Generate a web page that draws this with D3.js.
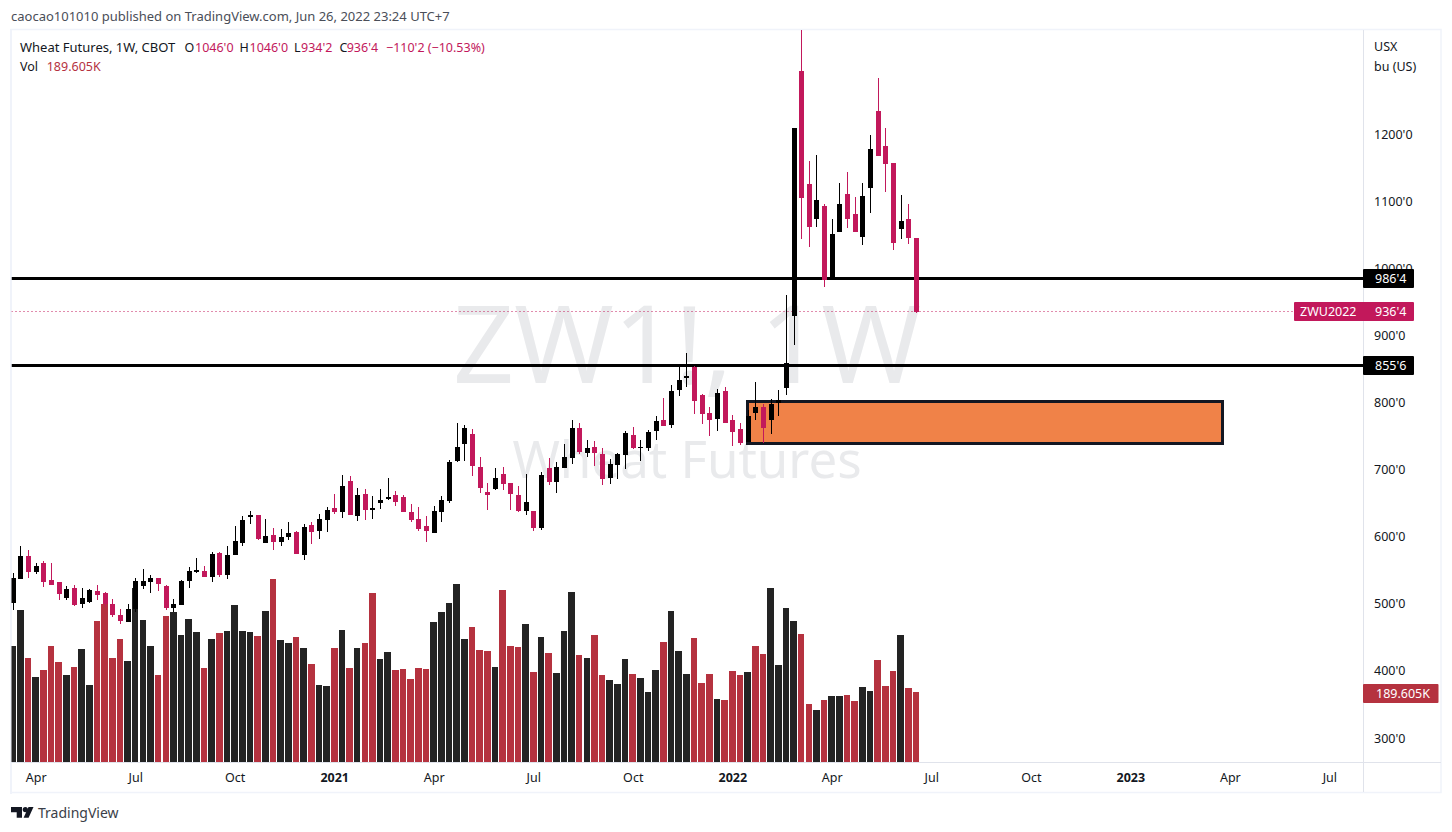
<!DOCTYPE html>
<html><head><meta charset="utf-8">
<script src="https://cdn.jsdelivr.net/npm/d3@7"></script>
<style>
html,body{margin:0;padding:0;background:#fff;overflow:hidden}
text{font-family:"Noto Sans","Open Sans",sans-serif;}
</style></head><body>
<svg id="c" width="1452" height="832"></svg>
<script>
const opens=[503,539,572.7,549.4,562.3,537,534,510.7,525,501.7,504.7,520.6,517.6,501.2,484.8,475,493.8,528,534,540,528,495.3,499.7,535.5,548.9,550.4,541.5,577.2,544.4,574.2,592.1,630.9,633.8,592.1,604,593.6,601.1,608.5,574.2,619,610,626.4,644.3,
638.2,684.4,632.2,665,641.2,651.6,657.6,663.5,660.6,638.2,627.8,617.3,606.9,638.2,654.6,714.2,739.5,754.4,705.3,668,672.5,694.8,681.4,663.5,639.7,639.7,614.4,703.8,682.9,703.8,718.7,763.4,726.1,735,724.6,688.9,708.2,723.1,753,733.6,733.6,758.9,775.3,
767.8,820,837.9,854.3,812.5,785.7,776.8,818.5,775.3,761.9,742.5,785.7,794.7,775.3,800.6,823,930.3,1295.4,1127,1074.8,1094.2,987.9,1055.4,1112.1,1082.3,1048,1121,1235.8,1183.6,1158.3,1059.9,1074.8,1046];
const highs=[547,587.6,581.7,562.3,565.3,562.3,534,528,529.5,525,523.6,529.5,519,508.7,493.8,501.2,540,553.4,544.4,540,529.5,508.7,537,556.4,569.8,557.8,578.7,578.7,587.6,617.4,632.3,639.8,633.8,627.9,614.5,613,623.4,610,620.4,623.4,635.3,645.8,665.1,
693.3,691.8,674,672.5,662,672.5,688.9,669.5,663.5,650.1,645.7,632.2,647.2,662,715.7,770.8,767.8,761.9,720.2,681.4,703.8,705.3,681.4,676.9,694.8,639.7,697.8,718.7,712.7,739.5,775.3,770.8,745.5,744,733.6,717.2,726.1,758.9,764.9,745.5,760.4,781.3,808.1,
827.4,854.3,875.1,855.8,814,794.7,821.5,824.5,782.7,770.8,790,831.9,799.1,806.6,820,961.5,1210.4,1363.5,1161.2,1170.2,1097.2,1074.8,1128.5,1144.9,1107.6,1128.5,1200,1284.9,1210.4,1158.3,1110.6,1097.2,1046];
const lows=[492.3,539,540,546.4,527,529.5,507.7,507.7,498.2,495.8,503.2,507.7,497.2,482.3,471.4,475,489.8,523.6,518.1,520.6,492.3,489.3,499.7,525,547.4,541.5,534,541.5,538.5,574.2,587.6,620.4,596.6,592.1,581.7,587.6,596.6,575.7,566.8,590.6,598.1,608.5,635.3,
629.3,633.7,624.8,626.3,627.8,642.7,656.1,647.2,638.2,623.3,609.9,593.5,606.9,623.3,651.6,712.7,714.2,691.8,666.5,641.2,671,671,641.2,638.2,633.7,609.9,611.4,678.4,666.5,703.8,709.7,724.6,720.2,706.8,678.4,679.9,687.4,702.3,732.1,714.2,729.1,745.5,766.4,
763.4,811,824.5,784.2,769.3,751.4,758.9,770.8,736.6,738,742.5,775.3,741,754.4,781.2,812.5,887,1045,1033.1,1062.9,973.5,987.9,1055.4,1061.4,1055.4,1036.1,1083.8,1168.7,1115.1,1028.6,1045,1037.6,934.25];
const closes=[539.5,572.7,549.4,557.8,534.5,529.5,516.6,523.6,499.7,510.2,522,514.6,501.2,485.3,476.4,493.8,535.5,535.5,540,531,495.3,501.2,535.5,550.4,551.9,541.5,575.7,544.4,574.2,595.1,626.4,633.8,598.1,602.5,593.6,601.1,607,575.7,616,608.5,627.9,641.3,638.3,
676.9,633.7,663.5,641.2,644.2,656.1,660.6,653.1,638.2,626.3,612.9,609.9,639.7,656.1,712.7,735.1,763.4,706.8,674,663.5,688.9,679.9,665,639.7,653.1,614.4,693.3,682.9,705.3,720.2,763.4,727.6,733.6,726.1,687.4,709.7,724.6,755.9,733.6,735,757.4,773.8,766.4,
818.5,834.9,840.9,803.6,784.2,775.3,815.5,770.8,757.4,741,781.2,794.7,763.4,799.1,805.1,860.2,1210.4,1106.1,1062.9,1103.1,984,1052.5,1097.2,1074.8,1055.4,1109.1,1179.1,1168.7,1156.8,1039,1071.8,1046.5,936.5];
const volumes=[314.2,411.7,281.7,230.2,249.2,314.2,270.8,235.6,257.3,306,208.5,381.9,427.9,281.7,333.1,273.5,471.3,384.6,314.2,235.6,395.4,406.3,344,387.3,352.1,254.6,333.1,349.4,354.8,425.2,354.8,352.1,341.3,409,495.6,330.4,322.3,338.6,308.8,265.4,208.5,205.8,308.8,
357.5,254.6,308.8,322.3,457.7,279,297.9,249.2,251.9,224.8,254.6,251.9,379.2,406.3,430.6,482.1,333.1,365.6,303.3,300.6,257.3,465.8,314.2,311.5,373.8,243.8,338.6,295.2,241,354.8,460.4,289.8,281.7,344,235.6,222.1,211.3,279,238.3,227.5,189.6,249.2,325,
409,300.6,238.3,335.8,214,238.3,170.6,167.9,246.5,235.6,243.8,314.2,292.5,471.3,262.7,417.1,381.9,346.7,157.1,140.8,167.9,178.8,178.8,181.5,165.2,203.1,192.3,276.3,205.8,246.5,344,200.4,189.605];
// weeks where the volume bar colour differs from the candle colour
const volumeRedOverride=[47,97];
const priceTicks=[300,400,500,600,700,800,900,1000,1100,1200];
const timeTickWeeks=[3,16,29,42,55,68,81,94,107,120,133,146,159,172];
const timeTickLabels=["Apr","Jul","Oct","2021","Apr","Jul","Oct","2022","Apr","Jul","Oct","2023","Apr","Jul"];
const levels=[{p:986.5,l:"986'4"},{p:855.75,l:"855'6"}];
const lastClose=936.5, lastVol=189.605;
const zone={w0:96.05,w1:158.15,p0:802.9,p1:740.3};

const svg=d3.select("#c");
const PL=11.5,PR=1363,PT=30,PB=762;
const x=d3.scaleLinear().domain([0,118]).range([12.7,916]);
const y=d3.scaleLinear().domain([300,1200]).range([739,135]);
const crispY=p=>Math.floor(y(p)-0.1)+.5;
const v=d3.scaleLinear().domain([0,189.605]).range([762,692]);
const ink="#131722",UP="#000000",DN="#c2185b",VUP="#232323",VDN="#b5323f";

// frame
svg.append("defs").append("clipPath").attr("id","pane").append("rect").attr("x",PL).attr("y",PT).attr("width",PR-PL).attr("height",PB-PT);
svg.append("rect").attr("x",11).attr("y",29.5).attr("width",1430).attr("height",763).attr("fill","none").attr("stroke","#f0f3fa").attr("stroke-width",1.5);
svg.append("rect").attr("x",10).attr("y",29).attr("width",2).attr("height",765).attr("fill","#f0f3fa");
svg.append("line").attr("x1",PR+.5).attr("x2",PR+.5).attr("y1",PT).attr("y2",792).attr("stroke","#e0e3eb");
svg.append("line").attr("x1",PL).attr("x2",1441).attr("y1",PB+.5).attr("y2",PB+.5).attr("stroke","#e0e3eb");

const pane=svg.append("g").attr("clip-path","url(#pane)");
// watermark
pane.append("text").attr("x",687).attr("y",383).attr("text-anchor","middle").attr("font-size",107).attr("fill","#e9eaec").text("ZW1!, 1W");
pane.append("text").attr("x",687).attr("y",478).attr("text-anchor","middle").attr("font-size",51).attr("fill","#e9eaec").text("Wheat Futures");

// volume
const idx=d3.range(opens.length);
const isUp=i=>closes[i]>=opens[i];
const volUp=i=>isUp(i)&&!volumeRedOverride.includes(i);
pane.selectAll("rect.vol").data(idx).join("rect").attr("class","vol")
 .attr("x",i=>Math.round(x(i)-3.3)).attr("width",i=>Math.round(x(i)+3.3)-Math.round(x(i)-3.3))
 .attr("y",i=>Math.round(v(volumes[i]))).attr("height",i=>PB-Math.round(v(volumes[i])))
 .attr("fill",i=>volUp(i)?VUP:VDN);

// drawings
pane.append("line").attr("x1",PL).attr("x2",1293).attr("y1",crispY(lastClose)).attr("y2",crispY(lastClose)).attr("stroke",DN).attr("stroke-width",1).attr("stroke-dasharray","1 3");
levels.forEach(d=>pane.append("line").attr("x1",PL).attr("x2",PR).attr("y1",crispY(d.p)).attr("y2",crispY(d.p)).attr("stroke","#000").attr("stroke-width",3));
pane.append("rect").attr("x",Math.floor(x(zone.w0))+.5).attr("width",Math.round(x(zone.w1)-x(zone.w0))).attr("y",crispY(zone.p0)).attr("height",Math.round(y(zone.p1)-y(zone.p0)))
 .attr("fill","#f08248").attr("stroke",ink).attr("stroke-width",3);

// candles
pane.selectAll("line.wick").data(idx).join("line").attr("class","wick")
 .attr("x1",i=>Math.round(x(i))+.5).attr("x2",i=>Math.round(x(i))+.5)
 .attr("y1",i=>Math.round(y(highs[i]))).attr("y2",i=>Math.round(y(lows[i])))
 .attr("stroke",i=>isUp(i)?UP:DN).attr("stroke-width",1);
pane.selectAll("rect.body").data(idx).join("rect").attr("class","body")
 .attr("x",i=>Math.round(x(i))-2).attr("width",5)
 .attr("y",i=>Math.round(y(Math.max(opens[i],closes[i])))).attr("height",i=>Math.max(1,Math.round(y(Math.min(opens[i],closes[i])))-Math.round(y(Math.max(opens[i],closes[i])))))
 .attr("fill",i=>isUp(i)?UP:DN);

// price axis
const fmtP=p=>p+"'0";
const pa=svg.append("g").attr("transform",`translate(${PR},-1)`).call(d3.axisRight(y).tickValues(priceTicks).tickFormat(fmtP).tickSize(0).tickPadding(11));
pa.select(".domain").remove();
pa.selectAll("text").attr("font-family",'"Noto Sans"').attr("font-size",12.5).attr("fill",ink);
svg.append("text").attr("x",1374).attr("y",51).attr("font-size",12.5).attr("fill",ink).text("USX");
svg.append("text").attr("x",1374).attr("y",71).attr("font-size",12.5).attr("fill",ink).text("bu (US)");

// time axis
const ta=svg.append("g").attr("transform",`translate(0,${PB+1.5})`).call(d3.axisBottom(x).tickValues(timeTickWeeks).tickFormat((d,i)=>timeTickLabels[i]).tickSize(0).tickPadding(10));
ta.select(".domain").remove();
ta.selectAll("text").attr("font-family",'"Noto Sans"').attr("font-size",12.5).attr("fill",ink)
  .attr("font-weight",(d,i)=>/^\d/.test(timeTickLabels[i])?"700":"400");

// tags
function tag(x0,w,cy,fill){svg.append("rect").attr("x",x0).attr("y",Math.floor(cy)-9).attr("width",w).attr("height",19).attr("rx",1).attr("fill",fill);}
function tagText(tx,cy,t){svg.append("text").attr("x",tx).attr("y",cy+4.5).attr("font-size",12.5).attr("fill","#fff").text(t);}
levels.forEach(d=>{tag(PR,51,crispY(d.p),"#000");tagText(1375,crispY(d.p),d.l);});
tag(1294,120,crispY(lastClose),DN);tagText(1300,crispY(lastClose),"ZWU2022");tagText(1375,crispY(lastClose),"936'4");
tag(PR,75.5,v(lastVol)+1,VDN);tagText(1376,v(lastVol)+1.5,"189.605K");

// header texts
svg.append("text").attr("x",11).attr("y",21).attr("font-size",13).attr("fill","#4a4e58").text("caocao101010 published on TradingView.com, Jun 26, 2022 23:24 UTC+7");
const leg=[[20,"Wheat Futures, 1W, CBOT",ink,13],[184.5,"O",ink,12.5],[195,"1046'0",DN,12.5],[239.5,"H",ink,12.5],[249.5,"1046'0",DN,12.5],[294,"L",ink,12.5],[301,"934'2",DN,12.5],[339.5,"C",ink,12.5],[346.7,"936'4",DN,12.5],[386,"−110'2 (−10.53%)",DN,12.5]];
leg.forEach(d=>svg.append("text").attr("x",d[0]).attr("y",51.5).attr("font-size",d[3]).attr("fill",d[2]).text(d[1]));
svg.append("text").attr("x",20).attr("y",70.5).attr("font-size",12.5).attr("fill",ink).text("Vol");
svg.append("text").attr("x",46.7).attr("y",70.5).attr("font-size",12.5).attr("fill",VDN).text("189.605K");

// logo
svg.append("path").attr("fill","#131722").attr("d","M11 807h11v10.7h-5.3v-5.4H11z");
svg.append("circle").attr("cx",25.3).attr("cy",809.6).attr("r",2.6).attr("fill","#131722");
svg.append("path").attr("fill","#131722").attr("d","M28.5 807H33.5L28.6 817.7H23.6z");
svg.append("text").attr("x",38).attr("y",818).attr("font-size",14).attr("fill","#3a3e48").text("TradingView");
</script>
</body></html>
